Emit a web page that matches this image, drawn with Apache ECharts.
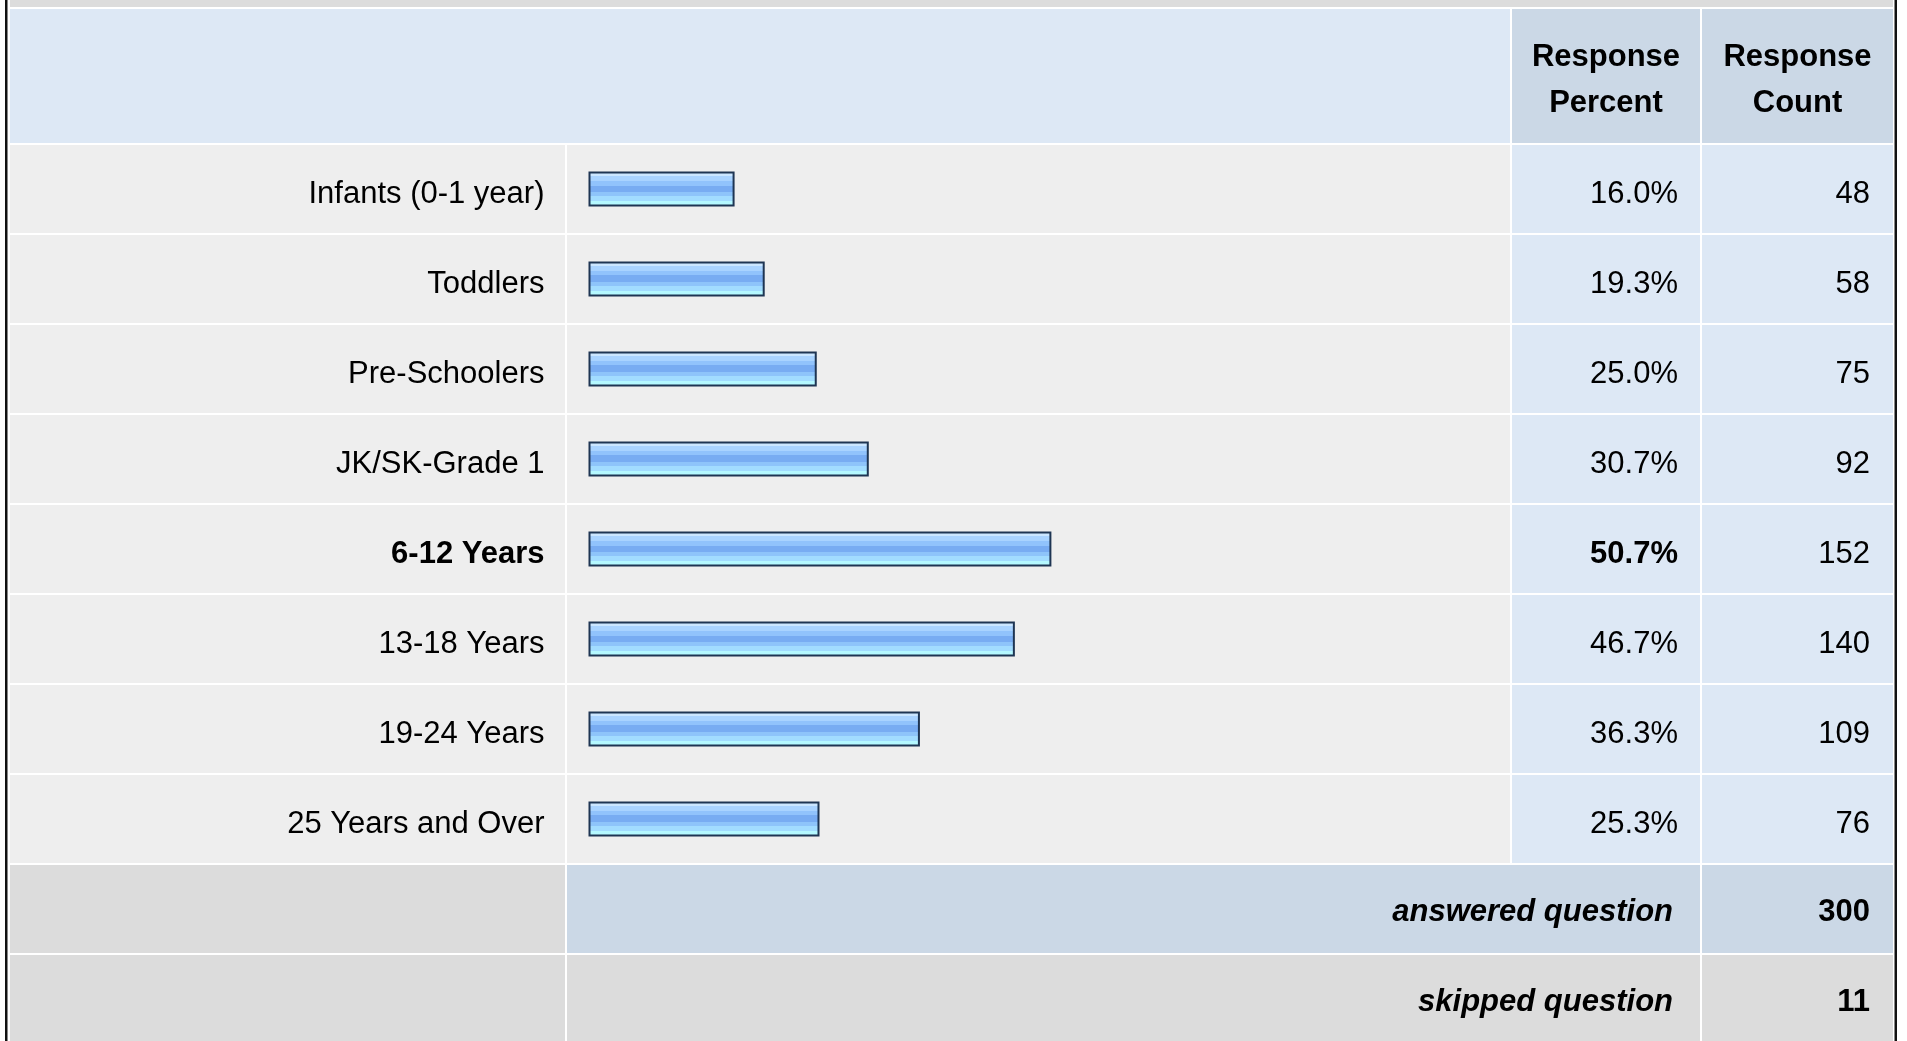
<!DOCTYPE html>
<html>
<head>
<meta charset="utf-8">
<script src="https://cdn.jsdelivr.net/npm/echarts@6/dist/echarts.min.js"></script>
<style>
html,body{margin:0;padding:0;background:#ffffff;}
#chart{width:1907px;height:1041px;}
</style>
</head>
<body>
<div id="chart"></div>
<script>
// ---- data ----
const categories = ["Infants (0-1 year)", "Toddlers", "Pre-Schoolers", "JK/SK-Grade 1", "6-12 Years", "13-18 Years", "19-24 Years", "25 Years and Over"];
const percents = [16.0, 19.3, 25.0, 30.7, 50.7, 46.7, 36.3, 25.3];
const counts = [48, 58, 75, 92, 152, 140, 109, 76];
const headerPercent = "Response\nPercent";
const headerCount = "Response\nCount";
const answeredLabel = "answered question";
const answeredCount = 300;
const skippedLabel = "skipped question";
const skippedCount = 11;

const FONT = '"Liberation Sans", Arial, sans-serif';
const FS = 31;
const maxVal = Math.max.apply(null, percents);
const maxIdx = percents.indexOf(maxVal);

const chart = echarts.init(document.getElementById('chart'), null, {renderer: 'canvas'});

const barGradient = new echarts.graphic.LinearGradient(0, 0, 0, 1, [
  {offset: 0.00, color: '#cbe6ff'}, {offset: 0.12, color: '#cbe6ff'},
  {offset: 0.12, color: '#a9d3ff'}, {offset: 0.28, color: '#a9d3ff'},
  {offset: 0.28, color: '#91c3fc'}, {offset: 0.40, color: '#91c3fc'},
  {offset: 0.40, color: '#78acf2'}, {offset: 0.59, color: '#78acf2'},
  {offset: 0.59, color: '#8ec4fa'}, {offset: 0.71, color: '#8ec4fa'},
  {offset: 0.71, color: '#a2dcff'}, {offset: 0.84, color: '#a2dcff'},
  {offset: 0.84, color: '#b4f8ff'}, {offset: 1.00, color: '#b4f8ff'}
]);

chart.setOption({
  animation: false,
  backgroundColor: '#ffffff',
  grid: {left: 588.5, top: 144, width: 913, height: 720, containLabel: false},
  xAxis: {type: 'value', min: 0, max: 100, show: false},
  yAxis: {
    type: 'category', inverse: true, data: categories, z: 10,
    axisLine: {show: false}, axisTick: {show: false}, splitLine: {show: false},
    axisLabel: {
      margin: 44, fontSize: FS, fontFamily: FONT, color: '#000',
      padding: [10, 0, 0, 0],
      formatter: function (v, i) { return i === maxIdx ? '{b|' + v + '}' : v; },
      rich: {b: {fontSize: FS, fontFamily: FONT, fontWeight: 'bold', color: '#000'}}
    }
  },
  series: [{
    type: 'bar', data: percents, barWidth: 35, z: 5,
    itemStyle: {color: barGradient, borderColor: '#1e3553', borderWidth: 2}
  }]
});

// ---- table layout (backgrounds & text) ----
const L0 = 10, L1 = 565, B0 = 567, B1 = 1510, P0 = 1512, P1 = 1700, C0 = 1702, C1 = 1893;
const g = [];
function rect(x0, y0, x1, y1, fill) {
  g.push({type: 'rect', z: -10, silent: true, shape: {x: x0, y: y0, width: x1 - x0, height: y1 - y0}, style: {fill: fill}});
}
function text(str, x, y, align, weight, style) {
  g.push({type: 'text', z: 50, silent: true, x: x, y: y,
    style: {text: str, fill: '#000', fontSize: FS, fontFamily: FONT, fontWeight: weight || 'normal',
      fontStyle: style || 'normal', align: align, verticalAlign: 'middle', lineHeight: 46}});
}

// top strip
rect(L0, 0, C1, 7, '#dcdcdc');
// header row
rect(L0, 9, B1, 143, '#dde8f5');
rect(P0, 9, P1, 143, '#cbd8e6');
rect(C0, 9, C1, 143, '#cbd8e6');
text(headerPercent, (P0 + P1) / 2, 80, 'center', 'bold');
text(headerCount, (C0 + C1) / 2, 80, 'center', 'bold');

let lastBottom = 0;
let step = 90;
categories.forEach(function (c, i) {
  const yc = chart.convertToPixel({yAxisIndex: 0}, c);
  if (i > 0) step = yc - chart.convertToPixel({yAxisIndex: 0}, categories[i - 1]);
  const y0 = yc - 44, y1 = yc + 44;
  rect(L0, y0, L1, y1, '#eeeeee');
  rect(B0, y0, B1, y1, '#eeeeee');
  rect(P0, y0, P1, y1, '#dde8f5');
  rect(C0, y0, C1, y1, '#dde8f5');
  const bold = i === maxIdx ? 'bold' : 'normal';
  text(percents[i].toFixed(1) + '%', 1678, yc + 5, 'right', bold);
  text(String(counts[i]), 1870, yc + 5, 'right', 'normal');
  lastBottom = y1;
});

// answered row
const ya = lastBottom + 2 + 44;
rect(L0, ya - 44, L1, ya + 44, '#dcdcdc');
rect(B0, ya - 44, P1, ya + 44, '#cbd8e6');
rect(C0, ya - 44, C1, ya + 44, '#cbd8e6');
text(answeredLabel, 1673, ya + 3, 'right', 'bold', 'italic');
text(String(answeredCount), 1870, ya + 3, 'right', 'bold');

// skipped row
const ys = ya + step;
rect(L0, ys - 44, L1, ys + 44, '#dcdcdc');
rect(B0, ys - 44, P1, ys + 44, '#dcdcdc');
rect(C0, ys - 44, C1, ys + 44, '#dcdcdc');
text(skippedLabel, 1673, ys + 3, 'right', 'bold', 'italic');
text(String(skippedCount), 1870, ys + 3, 'right', 'bold');

// outer black borders
rect(5, 0, 7.5, 1041, '#111111');
rect(1894.5, 0, 1897, 1041, '#111111');

chart.setOption({graphic: {elements: g}});
</script>
</body>
</html>
